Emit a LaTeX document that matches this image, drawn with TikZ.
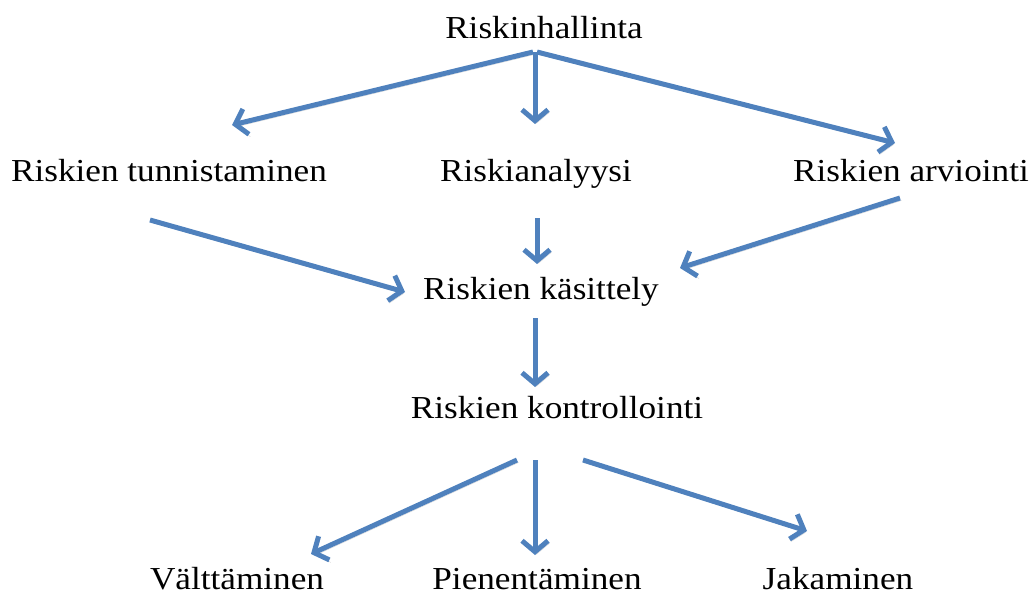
\documentclass[tikz,border=0pt]{standalone}
\usepackage{fontspec}
\setmainfont{Liberation Serif}[FakeStretch=1.1]
\usetikzlibrary{arrows.meta}
\definecolor{arrblue}{HTML}{4F81BD}
\tikzset{
  lbl/.style={anchor=base, inner sep=0pt, font=\fontsize{32}{36}\selectfont},
  conn/.style={draw=arrblue, line width=5pt, -{Straight Barb[length=11pt,width=26pt]},
    preaction={draw=black!18, transform canvas={shift={(1.5pt,-2.5pt)}}}}
}
\begin{document}
\begin{tikzpicture}[x=1pt,y=-1pt]
\useasboundingbox (0,0) rectangle (1030,594);
\node[lbl] (top) at (544,39) {Riskinhallinta};
\node[lbl] (tun) at (169,181) {Riskien tunnistaminen};
\node[lbl] (ana) at (536,181) {Riskianalyysi};
\node[lbl] (arv) at (911,181) {Riskien arviointi};
\node[lbl] (kas) at (541,299) {Riskien käsittely};
\node[lbl] (kon) at (557,418) {Riskien kontrollointi};
\node[lbl, text depth=0pt] (val) at (237,589) {Välttäminen};
\node[lbl, text depth=0pt] (pie) at (537,589) {Pienentäminen};
\node[lbl, text depth=0pt] (jak) at (838,589) {Jakaminen};
% connector ends
\coordinate (s1) at (533,52);
\coordinate (e1) at (232,125);
\coordinate (s2) at (535,52);
\coordinate (e2) at (535,124);
\coordinate (s3) at (537,52);
\coordinate (e3) at (895,143);
\coordinate (s4) at (150,220);
\coordinate (e4) at (405,292);
\coordinate (s5) at (537,218);
\coordinate (e5) at (537,264);
\coordinate (s6) at (900,198);
\coordinate (e6) at (680,268);
\coordinate (s7) at (535,318);
\coordinate (e7) at (535,387);
\coordinate (s8) at (517,460);
\coordinate (e8) at (311,554);
\coordinate (s9) at (535,460);
\coordinate (e9) at (535,555);
\coordinate (s10) at (583,460);
\coordinate (e10) at (807,531);
\foreach \i in {1,...,10} { \draw[conn] (s\i) -- (e\i); }
\end{tikzpicture}
\end{document}
